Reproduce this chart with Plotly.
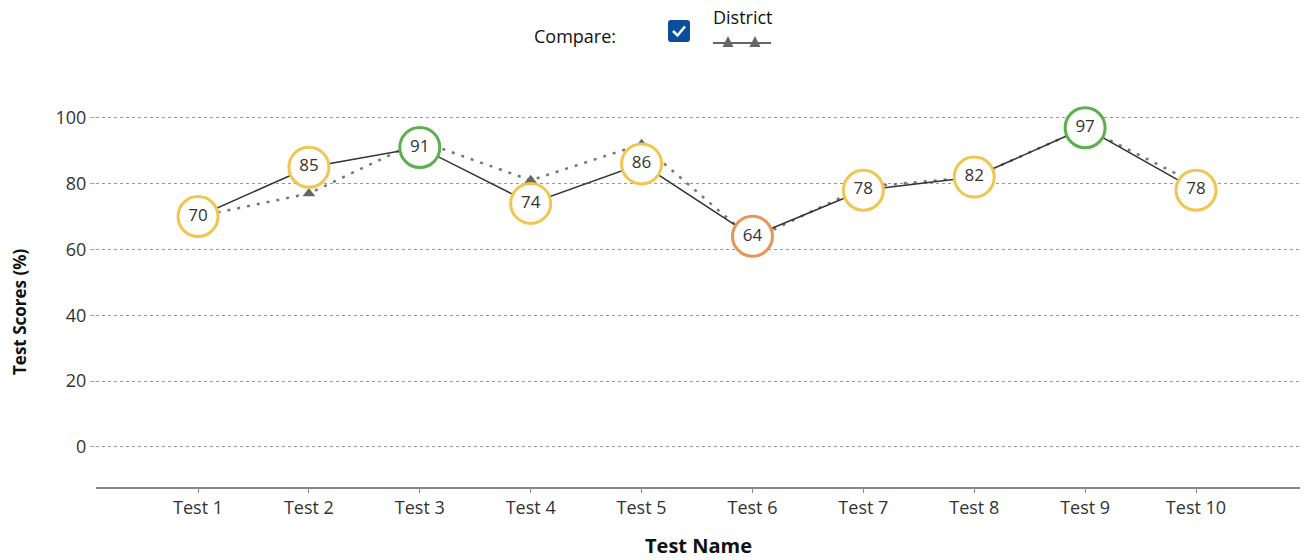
import plotly.graph_objects as go

tests = ["Test 1", "Test 2", "Test 3", "Test 4", "Test 5", "Test 6", "Test 7", "Test 8", "Test 9", "Test 10"]
student = [70, 85, 91, 74, 86, 64, 78, 82, 97, 78]
district = [70, 77, 93, 81, 92, 63, 79, 82, 97, 80]
y_ticks = [0, 20, 40, 60, 80, 100]

def ring_color(v):
    if v >= 90:
        return "#5cae4e"
    if v >= 70:
        return "#f0c550"
    if v >= 60:
        return "#e8955a"
    return "#d9534f"

W, H = 1303, 560
# plot area in page pixels (body margin removed in post_script)
L, R, T, B = 96, 1300, 80, 487

def px(x):
    return (x - L) / (R - L)

def py(y):
    return (B - y) / (B - T)

FONT = "'Open Sans', Lato, sans-serif"
xi = list(range(len(tests)))

fig = go.Figure()
fig.add_trace(go.Scatter(
    x=xi, y=district, mode="lines+markers", name="District",
    line=dict(color="#777777", width=2.5, dash="3px,7px"),
    marker=dict(symbol="triangle-up", size=11, color="#666666"),
    hoverinfo="skip", showlegend=False,
))
fig.add_trace(go.Scatter(
    x=xi, y=student, mode="lines+markers+text", name="Student",
    line=dict(color="#333333", width=1.5),
    marker=dict(size=40, color="white",
                line=dict(color=[ring_color(v) for v in student], width=3)),
    text=[str(v) for v in student], textposition="middle center",
    textfont=dict(size=17, color="#333333", family=FONT),
    showlegend=False,
))

shapes = []
annotations = []

# Checkbox
x0, x1, y0, y1 = 668, 690, 20, 42
r = 3
path = (f"M {px(x0+r)} {py(y0)} L {px(x1-r)} {py(y0)} Q {px(x1)} {py(y0)} {px(x1)} {py(y0+r)} "
        f"L {px(x1)} {py(y1-r)} Q {px(x1)} {py(y1)} {px(x1-r)} {py(y1)} "
        f"L {px(x0+r)} {py(y1)} Q {px(x0)} {py(y1)} {px(x0)} {py(y1-r)} "
        f"L {px(x0)} {py(y0+r)} Q {px(x0)} {py(y0)} {px(x0+r)} {py(y0)} Z")
shapes.append(dict(type="path", xref="paper", yref="paper", path=path,
                   fillcolor="#0b4f9c", line=dict(width=0)))
shapes.append(dict(type="path", xref="paper", yref="paper",
                   path=f"M {px(673)} {py(31)} L {px(677.5)} {py(35.5)} L {px(685)} {py(26.5)}",
                   line=dict(color="white", width=2.5)))
# Legend icon
shapes.append(dict(type="line", xref="paper", yref="paper",
                   x0=px(713), x1=px(771), y0=py(43), y1=py(43),
                   line=dict(color="#666666", width=2)))
for cx in (728, 755):
    shapes.append(dict(type="path", xref="paper", yref="paper",
                       path=f"M {px(cx-5.5)} {py(47)} L {px(cx+5.5)} {py(47)} L {px(cx)} {py(36)} Z",
                       fillcolor="#666666", line=dict(width=0)))

def label(text, x, y, size, angle=0):
    annotations.append(dict(text=text, xref="paper", yref="paper", x=px(x), y=py(y),
                            xanchor="center", yanchor="middle", textangle=angle,
                            showarrow=False, font=dict(size=size, color="#111111", family=FONT)))

label("Compare:", 575, 36, 18)
label("District", 743, 17, 18)
label("<b>Test Scores (%)</b>", 19, 312, 17, -90)
label("<b>Test Name</b>", 698, 545, 20)

fig.update_layout(
    width=W, height=H,
    margin=dict(l=L, r=W - R, t=T, b=H - B, autoexpand=False),
    plot_bgcolor="white", paper_bgcolor="white",
    font=dict(family=FONT, color="#333333"),
    shapes=shapes, annotations=annotations,
    showlegend=False,
    xaxis=dict(
        range=[-0.92, 9 + (R - 1196) / 110.9], tickmode="array", tickvals=xi, ticktext=tests,
        showgrid=False, zeroline=False, showline=True, linecolor="#888888", linewidth=1.5,
        ticks="outside", ticklen=4, tickcolor="#888888",
        tickfont=dict(size=18, color="#333333"),
    ),
    yaxis=dict(
        range=[-12.2, 111.5], tickmode="array", tickvals=y_ticks,
        showgrid=True, gridcolor="#999999", griddash="3px,3px", gridwidth=1,
        zeroline=False, showline=False,
        ticks="outside", ticklen=5, tickcolor="#aaaaaa",
        tickfont=dict(size=18, color="#333333"),
    ),
)

fig.write_html("out.html", config={"displayModeBar": False},
               post_script="document.body.style.margin='0';document.body.style.overflow='hidden';")
